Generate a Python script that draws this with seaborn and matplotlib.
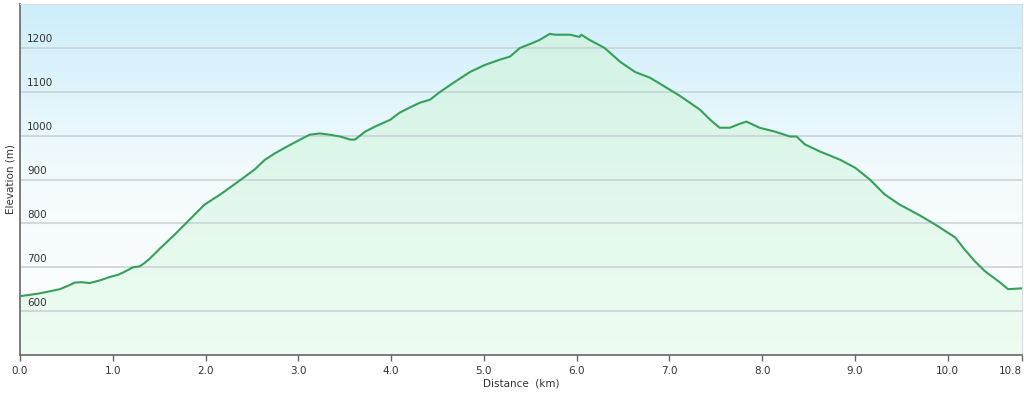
import numpy as np
import pandas as pd
import matplotlib
matplotlib.use('Agg')
import matplotlib.pyplot as plt
import matplotlib.transforms as mtransforms
from matplotlib.colors import LinearSegmentedColormap
import seaborn as sns

# elevation profile
distance_km = [0.00, 0.20, 0.43, 0.52, 0.59, 0.66, 0.75, 0.86, 0.97, 1.06, 1.13, 1.22, 1.29, 1.35,
               1.40, 1.51, 1.67, 1.83, 1.99, 2.16, 2.37, 2.53, 2.64, 2.75, 2.86, 3.02, 3.12,
               3.23, 3.34, 3.45, 3.56, 3.61, 3.72, 3.82, 3.99, 4.09, 4.20, 4.31, 4.42, 4.53,
               4.69, 4.85, 5.01, 5.17, 5.28, 5.39, 5.50, 5.60, 5.71, 5.77, 5.93, 6.03, 6.05,
               6.14, 6.30, 6.47, 6.63, 6.79, 6.90, 7.11, 7.33, 7.44, 7.54, 7.65, 7.76, 7.83,
               7.97, 8.14, 8.30, 8.37, 8.46, 8.62, 8.84, 9.00, 9.16, 9.32, 9.48, 9.70, 9.86,
               10.08, 10.18, 10.29, 10.40, 10.56, 10.65, 10.80]
elevation_m = [634, 640, 650, 658, 665, 666, 664, 670, 678, 683, 690, 700, 702, 711,
               720, 743, 775, 809, 843, 866, 898, 923, 945, 960, 973, 991, 1002,
               1005, 1002, 998, 991, 991, 1009, 1020, 1036, 1052, 1064, 1075, 1082, 1100,
               1123, 1145, 1161, 1173, 1180, 1200, 1209, 1218, 1232, 1230, 1230, 1225, 1230,
               1218, 1200, 1168, 1145, 1132, 1118, 1091, 1059, 1036, 1018, 1018, 1027, 1032,
               1018, 1009, 998, 998, 980, 964, 945, 927, 900, 866, 843, 818, 798,
               768, 741, 714, 691, 666, 650, 652]
x_ticks = [0, 1, 2, 3, 4, 5, 6, 7, 8, 9, 10, 10.8]
y_ticks = [600, 700, 800, 900, 1000, 1100, 1200]

df = pd.DataFrame({'Distance': distance_km, 'Elevation': elevation_m})

sns.set_style('white')
plt.rcParams['font.family'] = ['DejaVu Sans']

fig = plt.figure(figsize=(10.24, 3.96), dpi=100)
ax = fig.add_axes([20 / 1024, 41 / 396, 1002 / 1024, 351 / 396])
xmin, xmax, ymin, ymax = 0, 10.8, 500, 1300

# sky gradient background
sky = LinearSegmentedColormap.from_list('sky', ['#ffffff', '#f4fbfd', '#cdeefa'])
grad = np.linspace(0, 1, 256).reshape(-1, 1)
ax.imshow(grad, cmap=sky, aspect='auto', origin='lower',
          extent=[xmin, xmax, ymin, ymax], zorder=0)

# green gradient under the profile
greens = LinearSegmentedColormap.from_list('greens', ['#eefcf1', '#e2f8ec', '#d2f2e6'])
fill_img = ax.imshow(grad, cmap=greens, aspect='auto', origin='lower',
                     extent=[xmin, xmax, ymin, 1235], zorder=1)
poly = ax.fill_between(df['Distance'], df['Elevation'], ymin, color='none', lw=0)
clip_path = poly.get_paths()[0]
fill_img.set_clip_path(clip_path, transform=ax.transData)

for y in y_ticks:
    ax.axhline(y, color='#c8d0d4', lw=1.1, zorder=2)

sns.lineplot(data=df, x='Distance', y='Elevation', color='#35a05a', lw=1.5, ax=ax, zorder=3)

ax.set_xlim(xmin, xmax)
ax.set_ylim(ymin, ymax)
ax.set_xticks(x_ticks)
ax.set_xticklabels([f'{t:.1f}' for t in x_ticks], fontsize=7.5, color='#333333')
ax.get_xticklabels()[-1].set_horizontalalignment('right')
ax.tick_params(axis='x', length=4, width=1, color='#666666', pad=4, bottom=True)
ax.set_yticks([])
trans = mtransforms.blended_transform_factory(ax.transAxes, ax.transData)
for y in y_ticks:
    ax.text(7 / 1002, y + 8, str(y), transform=trans, fontsize=7.5, color='#333333',
            ha='left', va='bottom', zorder=4)

ax.set_xlabel('Distance  (km)', fontsize=7.5, color='#333333', labelpad=2)
ax.set_ylabel('Elevation (m)', fontsize=7.5, color='#333333', labelpad=3)

for side in ['top', 'right']:
    ax.spines[side].set_color('#d8dde0')
    ax.spines[side].set_linewidth(0.8)
for side in ['left', 'bottom']:
    ax.spines[side].set_color('#666666')
    ax.spines[side].set_linewidth(1.2)

fig.savefig('out.png', dpi=100)
